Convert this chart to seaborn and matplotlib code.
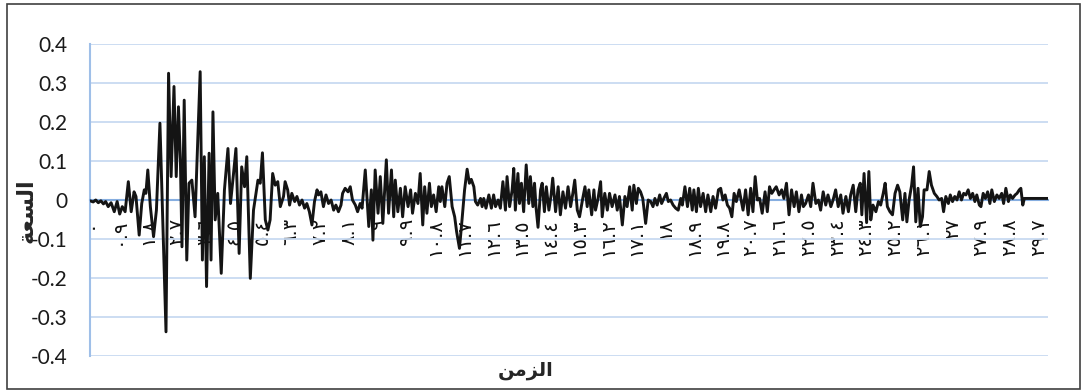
import matplotlib
matplotlib.use("Agg")
import matplotlib.pyplot as plt
from matplotlib.patches import Rectangle
import pandas as pd
import seaborn as sns

# Ground-motion record: time (s) and amplitude at the vertices of the trace
time_s = [
    0.00, 0.10, 0.18, 0.26, 0.34, 0.42, 0.49, 0.57, 0.66, 0.76,
    0.85, 0.93, 1.01, 1.10, 1.20, 1.29, 1.38, 1.44, 1.54, 1.62,
    1.70, 1.75, 1.81, 1.89, 1.99, 2.08, 2.19, 2.38, 2.46, 2.54,
    2.63, 2.70, 2.77, 2.83, 2.88, 2.95, 3.03, 3.10, 3.19, 3.29,
    3.45, 3.52, 3.58, 3.65, 3.73, 3.79, 3.85, 3.92, 4.00, 4.11,
    4.21, 4.32, 4.40, 4.49, 4.57, 4.67, 4.75, 4.84, 4.91, 5.02,
    5.12,
    5.26, 5.33, 5.40, 5.49, 5.57, 5.64, 5.72, 5.80, 5.88, 5.96,
    6.06, 6.11, 6.19, 6.25, 6.32, 6.41, 6.48, 6.56, 6.64, 6.72,
    6.79, 6.87, 6.95, 7.03, 7.11, 7.16, 7.23, 7.31, 7.39, 7.47,
    7.55, 7.63, 7.70, 7.78, 7.86, 7.91, 7.99, 8.08, 8.15, 8.22,
    8.31, 8.38, 8.46, 8.52, 8.62, 8.73, 8.81, 8.86, 8.93, 9.02,
    9.09, 9.17, 9.28, 9.35, 9.44, 9.51, 9.56, 9.64, 9.72, 9.79,
    9.87, 9.96, 10.04, 10.10, 10.19, 10.27,
    10.34, 10.42, 10.48, 10.55, 10.63, 10.69, 10.76, 10.84, 10.92, 10.97,
    11.02, 11.11, 11.18, 11.25, 11.34, 11.42, 11.48, 11.57, 11.65, 11.73,
    11.81, 11.88, 11.94, 12.02, 12.07, 12.14, 12.23, 12.28, 12.33, 12.40,
    12.49, 12.57, 12.64, 12.70, 12.78, 12.85, 12.93, 13.01, 13.06, 13.14,
    13.22, 13.27, 13.32, 13.40, 13.45, 13.51, 13.58, 13.66, 13.74, 13.79,
    13.87, 13.92, 13.97, 14.03, 14.11, 14.16, 14.23, 14.29, 14.37, 14.44,
    14.49, 14.58, 14.66, 14.73, 14.81, 14.89, 14.97, 15.05, 15.12, 15.18,
    15.26, 15.33,
    15.43, 15.50, 15.57, 15.62, 15.71, 15.78, 15.83, 15.91, 15.99, 16.04,
    16.12, 16.20, 16.27, 16.35, 16.44, 16.51, 16.58, 16.67, 16.75, 16.82,
    16.90, 16.98, 17.03, 17.11, 17.17, 17.24, 17.31, 17.40, 17.48, 17.56,
    17.63, 17.69, 17.76, 17.84, 17.90, 17.97, 18.05, 18.11, 18.18, 18.26,
    18.34, 18.42, 18.50, 18.55, 18.63, 18.71, 18.78, 18.86, 18.91, 18.99,
    19.05, 19.12, 19.20, 19.28, 19.35, 19.44, 19.51, 19.59, 19.68, 19.75,
    19.82, 19.89, 19.96, 20.03, 20.10, 20.17, 20.24, 20.33,
    20.45, 20.53, 20.61, 20.69, 20.76, 20.83, 20.90, 20.97, 21.05, 21.14,
    21.21, 21.28, 21.35, 21.42, 21.49, 21.58, 21.66, 21.73, 21.81, 21.89,
    21.97, 22.05, 22.12, 22.20, 22.28, 22.34, 22.41, 22.50, 22.57, 22.64,
    22.73, 22.81, 22.88, 22.96, 23.04, 23.11, 23.20, 23.27, 23.35, 23.43,
    23.51, 23.58, 23.67, 23.75, 23.82, 23.90, 23.98, 24.05, 24.12, 24.17,
    24.24, 24.32, 24.39, 24.45, 24.52, 24.61, 24.69, 24.76, 24.84, 24.90,
    24.97, 25.05, 25.13, 25.21, 25.29, 25.36,
    25.45, 25.52, 25.58, 25.65, 25.73, 25.79, 25.86, 25.93, 26.00, 26.07,
    26.12, 26.21, 26.28, 26.35, 26.44, 26.52, 26.59, 26.67, 26.73, 26.80,
    26.88, 26.94, 27.01, 27.08, 27.15, 27.22, 27.29, 27.36, 27.43, 27.50,
    27.57, 27.64, 27.71, 27.77, 27.85, 27.90, 27.97, 28.04, 28.11, 28.18,
    28.24, 28.32, 28.40, 28.47, 28.55, 28.61, 28.68, 28.76, 28.82, 28.89,
    28.97, 29.03, 29.10, 29.15, 29.21, 29.26, 30.00,
]

amplitude = [
    -0.002, -0.005, 0.000, -0.007, -0.002, -0.010, -0.004, -0.017, -0.007, -0.030,
    -0.004, -0.036, -0.017, -0.030, 0.047, -0.030, 0.021, 0.009, -0.090, -0.009,
    0.026, 0.017, 0.077, -0.017, -0.094, -0.026, 0.197, -0.338, 0.325, 0.060,
    0.291, 0.060, 0.239, 0.103, -0.120, 0.256, -0.154, 0.043, 0.051, -0.043,
    0.329, -0.154, 0.111, -0.222, 0.120, -0.154, 0.226, -0.051, 0.017, -0.188,
    0.026, 0.132, -0.009, 0.064, 0.132, -0.137, 0.085, 0.034, 0.111, -0.201,
    -0.026,
    0.051, 0.043, 0.121, -0.051, -0.077, -0.051, 0.068, 0.038, 0.047, -0.017,
    0.009, 0.047, 0.026, -0.013, 0.017, -0.004, 0.009, -0.013, 0.000, -0.021,
    -0.009, -0.030, -0.064, -0.004, 0.026, 0.013, 0.021, -0.017, 0.013, -0.009,
    0.000, -0.026, -0.013, -0.030, -0.013, 0.017, 0.030, 0.021, 0.034, 0.000,
    -0.013, -0.030, -0.009, -0.021, 0.077, -0.068, 0.026, -0.103, 0.077, -0.034,
    0.060, -0.060, 0.103, -0.034, 0.077, -0.043, 0.051, -0.030, 0.030, -0.043,
    0.034, -0.017, 0.026, -0.034, 0.017, -0.009,
    0.068, -0.064, 0.034, -0.034, 0.043, -0.017, 0.013, -0.030, 0.034, -0.004,
    0.034, -0.017, 0.043, 0.060, -0.017, -0.043, -0.081, -0.124, -0.051, 0.026,
    0.079, 0.043, 0.053, 0.034, -0.004, -0.013, 0.004, -0.017, 0.004, -0.021,
    0.013, -0.021, 0.013, -0.017, 0.000, -0.021, 0.047, -0.026, 0.060, -0.017,
    0.026, 0.081, -0.026, 0.068, -0.009, 0.043, -0.030, 0.090, -0.009, 0.060,
    -0.017, 0.043, -0.021, -0.070, 0.026, 0.043, -0.030, 0.034, -0.026, 0.013,
    0.056, -0.030, 0.034, -0.038, 0.021, -0.021, 0.034, -0.017, 0.017, 0.051,
    -0.026, -0.043,
    0.004, 0.034, -0.017, 0.026, -0.038, 0.026, -0.026, 0.004, 0.047, -0.043,
    0.017, -0.026, 0.017, -0.017, 0.013, -0.026, 0.009, -0.064, 0.009, -0.017,
    0.034, -0.026, 0.038, -0.009, 0.030, 0.021, 0.004, -0.060, 0.000, -0.004,
    -0.017, 0.004, -0.013, 0.013, -0.009, 0.004, 0.017, -0.004, 0.000, -0.013,
    -0.021, -0.026, 0.004, -0.013, 0.034, -0.017, 0.030, -0.026, 0.026, -0.030,
    0.030, -0.017, 0.017, -0.030, 0.013, -0.030, 0.009, -0.021, 0.026, 0.030,
    0.000, 0.013, -0.013, -0.021, -0.043, 0.017, -0.004, 0.026,
    -0.026, 0.026, -0.038, 0.030, -0.030, 0.060, 0.000, 0.004, -0.034, 0.021,
    -0.030, 0.034, 0.017, 0.026, 0.034, 0.013, 0.026, 0.004, 0.043, -0.038,
    0.026, -0.017, 0.021, -0.030, 0.013, -0.017, -0.009, 0.013, -0.017, 0.043,
    -0.009, 0.000, -0.026, 0.021, -0.013, 0.013, -0.017, 0.000, 0.026, -0.017,
    0.013, -0.034, 0.009, -0.030, 0.013, 0.038, -0.030, 0.026, 0.043, -0.038,
    0.068, -0.058, 0.073, -0.051, -0.013, -0.030, -0.004, -0.013, 0.017, 0.043,
    -0.017, -0.030, -0.038, 0.017, 0.038, 0.021,
    -0.051, 0.017, -0.056, 0.000, 0.038, 0.085, -0.056, 0.030, -0.068, -0.043,
    0.026, 0.026, 0.073, 0.038, 0.017, 0.009, 0.000, 0.004, -0.030, 0.009,
    -0.009, 0.013, -0.004, 0.009, 0.000, 0.021, 0.000, 0.017, 0.013, 0.026,
    0.004, 0.017, -0.004, 0.013, -0.013, -0.017, 0.017, 0.004, 0.021, -0.009,
    0.026, -0.004, 0.013, 0.004, 0.017, -0.009, 0.030, -0.004, 0.013, 0.004,
    0.013, 0.017, 0.026, 0.030, -0.013, 0.004, 0.004,
]

y_ticks = [-0.4, -0.3, -0.2, -0.1, 0.0, 0.1, 0.2, 0.3, 0.4]
y_tick_labels = ["-0.4", "-0.3", "-0.2", "-0.1", "0", "0.1", "0.2", "0.3", "0.4"]

x_ticks = [0.0, 0.9, 1.8, 2.7, 3.6, 4.5, 5.4, 6.3, 7.2, 8.1,
           9.0, 9.9, 10.8, 11.7, 12.6, 13.5, 14.4, 15.3, 16.2, 17.1,
           18.0, 18.9, 19.8, 20.7, 21.6, 22.5, 23.4, 24.3, 25.2, 26.1,
           27.0, 27.9, 28.8, 29.7]
x_tick_labels = ["٠", "٠.٩", "١.٨", "٢.٧", "٣.٦", "٤.٥", "٥.٤", "٦.٣", "٧.٢", "٨.١",
                 "٩", "٩.٩", "١٠.٨", "١١.٧", "١٢.٦", "١٣.٥", "١٤.٤", "١٥.٣", "١٦.٢", "١٧.١",
                 "١٨", "١٨.٩", "١٩.٨", "٢٠.٧", "٢١.٦", "٢٢.٥", "٢٣.٤", "٢٤.٣", "٢٥.٢", "٢٦.١",
                 "٢٧", "٢٧.٩", "٢٨.٨", "٢٩.٧"]

# Arabic titles written with contextual (presentation) forms in display order,
# since matplotlib does not shape Arabic text itself
x_title = "\uFEE6\uFEE3\uFEB0\uFEDF\uFE8D"   # الزمن
y_title = "\uFE94\uFECC\uFEB4\uFEDF\uFE8D"   # السعة

sns.set_style("white")
plt.rcParams["font.family"] = ["Lato", "DejaVu Sans"]

W, H = 1086, 392
fig = plt.figure(figsize=(W / 100, H / 100), dpi=100)
ax = fig.add_axes([90 / W, 36 / H, 958 / W, 312 / H])

df = pd.DataFrame({"time": time_s, "amp": amplitude})
sns.lineplot(data=df, x="time", y="amp", ax=ax, color="#141414",
             linewidth=2.1, estimator=None, sort=False, zorder=3)

ax.set_xlim(0, 30)
ax.set_ylim(-0.4, 0.4)
ax.set_xlabel("")
ax.set_ylabel("")

# axes frame: horizontal axis crosses at zero (set before styling ticks,
# because moving a spine rebuilds its ticks)
for side in ("top", "right"):
    ax.spines[side].set_visible(False)
ax.spines["bottom"].set_position(("data", 0))
ax.spines["bottom"].set_color("#86aee0")
ax.spines["bottom"].set_linewidth(1.5)
ax.spines["left"].set_color("#9fbfe8")
ax.spines["left"].set_linewidth(1.5)

ax.set_yticks(y_ticks)
ax.set_yticklabels(y_tick_labels, fontsize=15, color="#1a1a1a")
ax.set_xticks(x_ticks)
ax.set_xticklabels(x_tick_labels, fontsize=14,
                   family=["DejaVu Sans"], color="#111111")
ax.tick_params(axis="y", length=0, pad=16)
ax.tick_params(axis="x", length=0, pad=13, labelrotation=90)
for lab in ax.get_xticklabels():
    lab.set_rotation(90)
    lab.set_va("top")
    lab.set_ha("center")

ax.grid(False)
ax.yaxis.grid(True, color="#c8daf1", linewidth=1.3)
ax.set_axisbelow(True)

fig.text(526 / W, 1 - 371 / H, x_title, ha="center", va="center",
         fontsize=14, fontweight="bold", family=["DejaVu Sans"])
fig.text(26 / W, 1 - 211 / H, y_title, ha="center", va="center", rotation=90,
         fontsize=16, fontweight="bold", family=["DejaVu Sans"])

fig.patches.append(Rectangle((6.5 / W, 3.5 / H), (1080 - 6.5) / W, (391 - 3.5 - 2.5) / H,
                             transform=fig.transFigure, fill=False,
                             edgecolor="#3f3f3f", linewidth=1.2))

fig.savefig("out.png", dpi=100)
